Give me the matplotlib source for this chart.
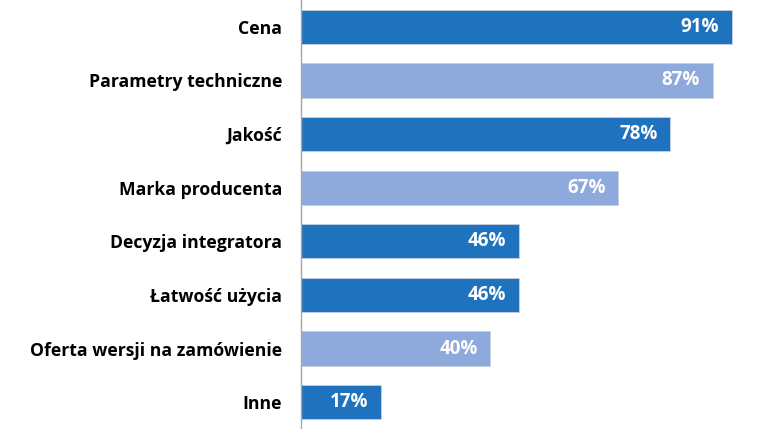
import matplotlib.pyplot as plt

categories = ["Cena", "Parametry techniczne", "Jakość", "Marka producenta",
              "Decyzja integratora", "Łatwość użycia",
              "Oferta wersji na zamówienie", "Inne"]
values = [91, 87, 78, 67, 46, 46, 40, 17]
shades = ["dark", "light", "dark", "light", "dark", "dark", "light", "dark"]

palette = {"dark": "#1F72BE", "light": "#8EA9DB"}

plt.rcParams['font.family'] = ['Open Sans', 'DejaVu Sans']

fig = plt.figure(figsize=(7.64, 4.29), dpi=100)
ax = fig.add_axes([301 / 764, 0, 1 - 301 / 764, 1])

ypos = list(range(len(categories)))
colors = [palette[s] for s in shades]
bars = ax.barh(ypos, values, height=0.64, color=colors,
               edgecolor="#C8D0DC", linewidth=0.6)

for y, v in zip(ypos, values):
    ax.text(v - 2.7, y, f"{v}%", ha="right", va="center", color="white",
            fontsize=13.5, fontweight="bold")

ax.set_yticks(ypos)
ax.set_yticklabels(categories, fontsize=12.7, fontweight="bold")
ax.tick_params(axis="y", length=0, pad=13.5)
ax.set_xticks([])
ax.set_xlim(0, 97.8)
ax.set_ylim(len(categories) - 0.5, -0.5)

for side in ["top", "right", "bottom"]:
    ax.spines[side].set_visible(False)
ax.spines["left"].set_color("#A6A6A6")
ax.spines["left"].set_linewidth(1.0)

fig.savefig("out.png", dpi=100)
plt.close(fig)
